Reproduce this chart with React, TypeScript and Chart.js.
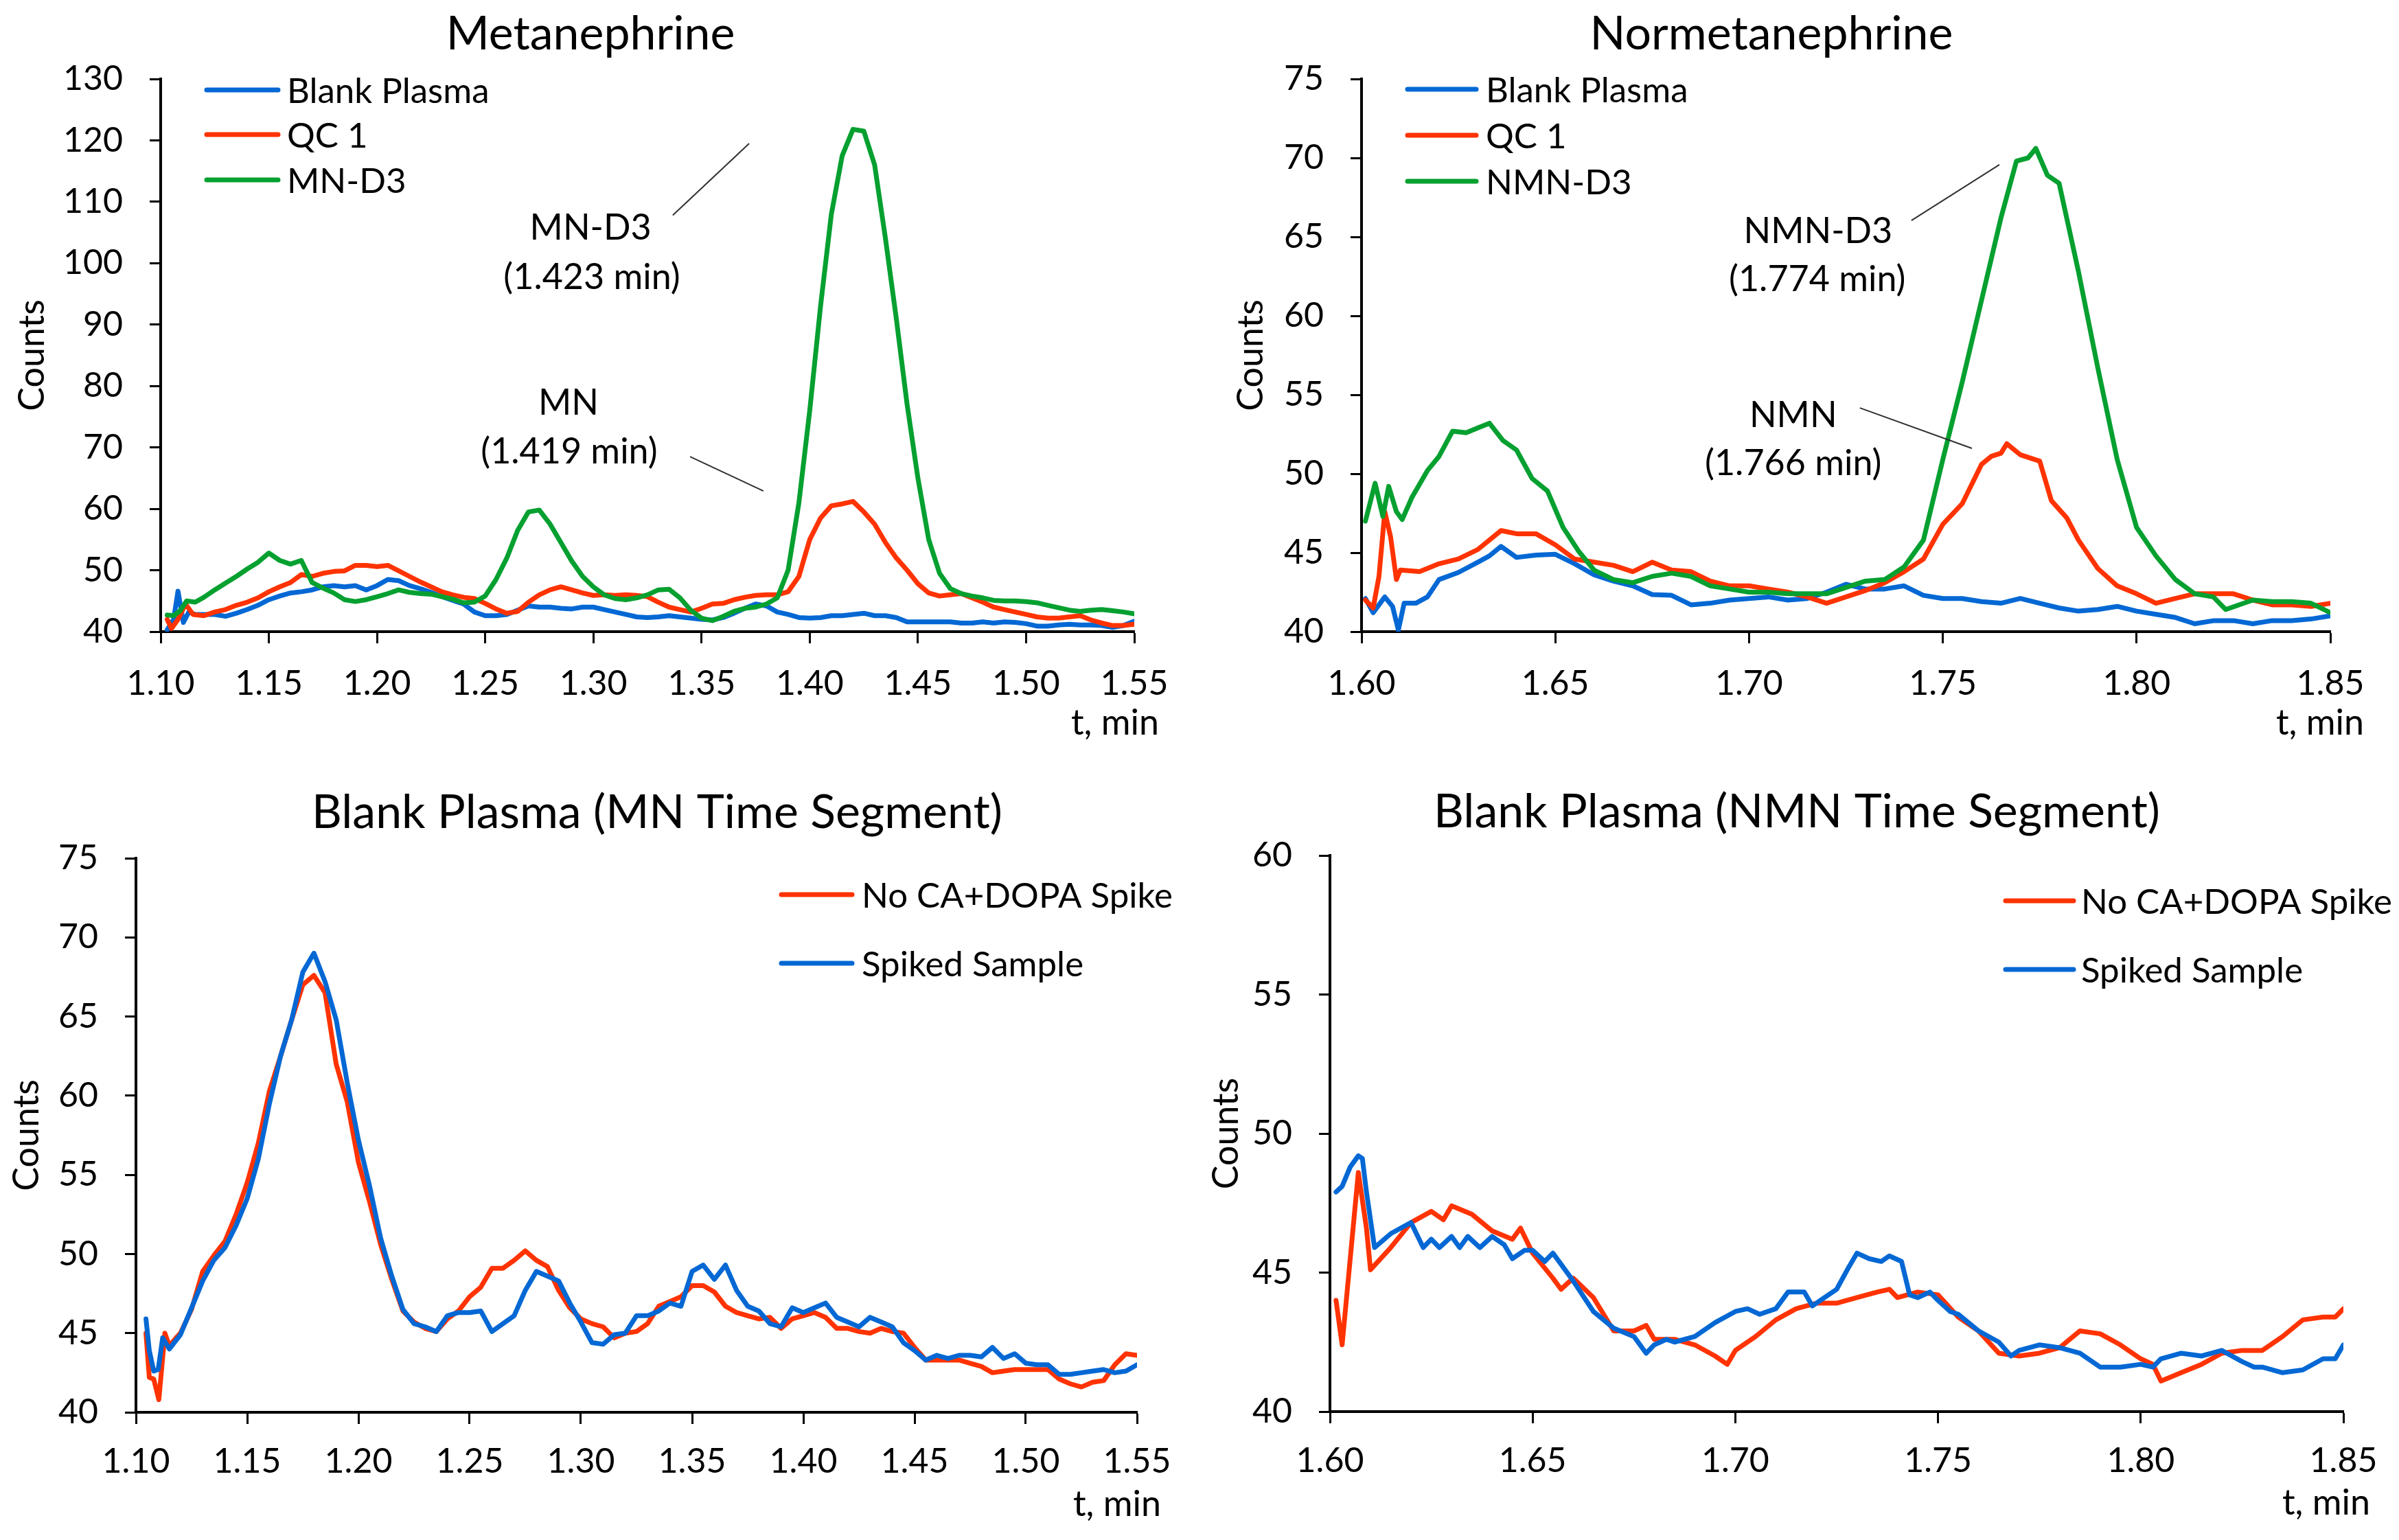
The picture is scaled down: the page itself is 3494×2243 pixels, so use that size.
import React, { useEffect, useRef } from "react";
import { Chart, registerables } from "chart.js";

Chart.register(...registerables);

// ---------------- DATA ----------------
// Metanephrine panel (t, min) — shared grid after the injection spike
const mnGridT = [
  1.12, 1.125, 1.13, 1.135, 1.14, 1.145, 1.15, 1.155, 1.16, 1.165,
  1.17, 1.175, 1.18, 1.185, 1.19, 1.195, 1.2, 1.205, 1.21, 1.215,
  1.22, 1.225, 1.23, 1.235, 1.24, 1.245, 1.25, 1.255, 1.26, 1.265,
  1.27, 1.275, 1.28, 1.285, 1.29, 1.295, 1.3, 1.305, 1.31, 1.315,
  1.32, 1.325, 1.33, 1.335, 1.34, 1.345, 1.35, 1.355, 1.36, 1.365,
  1.37, 1.375, 1.38, 1.385, 1.39, 1.395, 1.4, 1.405, 1.41, 1.415,
  1.42, 1.425, 1.43, 1.435, 1.44, 1.445, 1.45, 1.455, 1.46, 1.465,
  1.47, 1.475, 1.48, 1.485, 1.49, 1.495, 1.5, 1.505, 1.51, 1.515,
  1.52, 1.525, 1.53, 1.535, 1.54, 1.545, 1.55,
];
const mnBlankHeadT = [1.103, 1.106, 1.108, 1.1105, 1.113, 1.116];
const mnBlankHead = [40.3, 42.0, 46.6, 41.5, 43.2, 42.8];
const mnBlank = [
  42.8, 42.8, 42.5, 43.0, 43.6, 44.3, 45.2, 45.8, 46.3, 46.5,
  46.8, 47.3, 47.5, 47.3, 47.5, 46.8, 47.5, 48.5, 48.3, 47.5,
  47.0, 46.4, 45.7, 45.1, 44.5, 43.2, 42.6, 42.6, 42.8, 43.5,
  44.2, 44.0, 44.0, 43.8, 43.7, 44.0, 44.0, 43.6, 43.2, 42.8,
  42.4, 42.3, 42.4, 42.6, 42.4, 42.2, 42.0, 41.9, 42.3, 43.0,
  43.8, 44.5, 44.2, 43.2, 42.8, 42.3, 42.2, 42.3, 42.6, 42.6,
  42.8, 43.0, 42.6, 42.6, 42.3, 41.6, 41.6, 41.6, 41.6, 41.6,
  41.4, 41.4, 41.6, 41.4, 41.6, 41.5, 41.3, 40.9, 40.9, 41.1,
  41.2, 41.1, 41.1, 41.0, 40.7, 41.0, 41.7,
];
const mnQcHeadT = [1.103, 1.105, 1.108, 1.1115, 1.115];
const mnQcHead = [42.0, 40.5, 42.0, 44.5, 42.8];
const mnQc = [
  42.6, 43.2, 43.6, 44.3, 44.8, 45.5, 46.5, 47.3, 48.0, 49.3,
  49.0, 49.5, 49.8, 49.9, 50.8, 50.8, 50.6, 50.8, 49.9, 49.0,
  48.1, 47.3, 46.5, 46.0, 45.6, 45.4, 44.6, 43.7, 43.0, 43.3,
  44.8, 46.0, 46.8, 47.3, 46.8, 46.3, 45.9, 46.0, 45.9, 46.0,
  45.9, 45.7, 44.8, 44.0, 43.6, 43.2, 43.8, 44.5, 44.6, 45.2,
  45.6, 45.9, 46.0, 46.0, 46.5, 49.0, 55.0, 58.5, 60.5, 60.8,
  61.2, 59.5, 57.5, 54.5, 52.0, 50.0, 47.8, 46.3, 45.8, 46.0,
  46.2, 45.5, 44.8, 44.0, 43.6, 43.2, 42.8, 42.4, 42.2, 42.2,
  42.4, 42.6, 41.9, 41.4, 41.0, 41.0, 41.2,
];
const mnD3HeadT = [1.103, 1.106, 1.109, 1.112, 1.116];
const mnD3Head = [42.7, 42.6, 43.4, 45.0, 44.8];
const mnD3 = [
  45.6, 46.8, 47.9, 49.0, 50.2, 51.3, 52.8, 51.6, 51.0, 51.6,
  48.0, 47.1, 46.3, 45.2, 44.9, 45.2, 45.7, 46.2, 46.8, 46.4,
  46.2, 46.1, 45.7, 45.3, 44.7, 44.8, 45.8, 48.5, 52.0, 56.5,
  59.5, 59.8, 57.5, 54.5, 51.5, 49.0, 47.3, 46.0, 45.4, 45.2,
  45.5, 46.0, 46.8, 46.9, 45.5, 43.5, 42.2, 41.8, 42.5, 43.3,
  43.8, 44.0, 44.5, 45.5, 50.0, 61.0, 76.0, 93.0, 108.0, 117.5,
  121.8, 121.5, 116.0, 104.0, 91.0, 77.0, 65.0, 55.0, 49.5, 47.0,
  46.2, 45.8, 45.5, 45.1, 45.0, 45.0, 44.9, 44.7, 44.3, 43.9,
  43.5, 43.3, 43.5, 43.6, 43.4, 43.2, 42.9,
];

// Normetanephrine panel
const nmBlankT = [
  1.601, 1.603, 1.606, 1.608, 1.6095, 1.611, 1.614, 1.617, 1.62, 1.625,
  1.63, 1.633, 1.636, 1.64, 1.645, 1.65, 1.655, 1.66, 1.665, 1.67,
  1.675, 1.68, 1.685, 1.69, 1.695, 1.7, 1.705, 1.71, 1.715, 1.72,
  1.725, 1.73, 1.735, 1.74, 1.745, 1.75, 1.755, 1.76, 1.765, 1.77,
  1.775, 1.78, 1.785, 1.79, 1.795, 1.8, 1.805, 1.81, 1.815, 1.82,
  1.825, 1.83, 1.835, 1.84, 1.845, 1.85,
];
const nmBlank = [
  42.1, 41.2, 42.2, 41.6, 40.1, 41.8, 41.8, 42.2, 43.3, 43.75,
  44.4, 44.8, 45.4, 44.7, 44.85, 44.9, 44.3, 43.6, 43.2, 42.9,
  42.35, 42.3, 41.7, 41.8, 42.0, 42.1, 42.2, 42.0, 42.1, 42.5,
  43.0, 42.7, 42.7, 42.9, 42.3, 42.1, 42.1, 41.9, 41.8, 42.1,
  41.8, 41.5, 41.3, 41.4, 41.6, 41.3, 41.1, 40.9, 40.5, 40.7,
  40.7, 40.5, 40.7, 40.7, 40.8, 41.0,
];
const nmQcT = [
  1.601, 1.603, 1.6045, 1.606, 1.6075, 1.609, 1.61, 1.615, 1.62, 1.625,
  1.63, 1.636, 1.64, 1.645, 1.65, 1.655, 1.66, 1.665, 1.67, 1.675,
  1.68, 1.685, 1.69, 1.695, 1.7, 1.705, 1.71, 1.715, 1.72, 1.725,
  1.73, 1.735, 1.74, 1.745, 1.75, 1.755, 1.76, 1.7625, 1.765, 1.7665,
  1.77, 1.775, 1.778, 1.782, 1.785, 1.79, 1.795, 1.8, 1.805, 1.81,
  1.815, 1.82, 1.825, 1.83, 1.835, 1.84, 1.845, 1.85,
];
const nmQc = [
  42.0, 41.5, 43.5, 47.6, 46.0, 43.3, 43.9, 43.8, 44.3, 44.6,
  45.2, 46.4, 46.2, 46.2, 45.5, 44.6, 44.4, 44.2, 43.8, 44.4,
  43.9, 43.8, 43.2, 42.9, 42.9, 42.7, 42.5, 42.2, 41.8, 42.2,
  42.6, 43.1, 43.8, 44.6, 46.8, 48.1, 50.6, 51.1, 51.3, 51.9,
  51.2, 50.8, 48.3, 47.2, 45.8, 44.0, 42.9, 42.4, 41.8, 42.1,
  42.4, 42.4, 42.4, 42.0, 41.7, 41.7, 41.6, 41.8,
];
const nmD3T = [
  1.601, 1.6035, 1.6055, 1.607, 1.609, 1.6105, 1.613, 1.617, 1.62, 1.6235,
  1.627, 1.63, 1.633, 1.6365, 1.64, 1.644, 1.648, 1.652, 1.656, 1.66,
  1.665, 1.67, 1.675, 1.68, 1.685, 1.69, 1.695, 1.7, 1.705, 1.71,
  1.715, 1.72, 1.725, 1.73, 1.735, 1.74, 1.745, 1.75, 1.755, 1.76,
  1.765, 1.769, 1.772, 1.774, 1.777, 1.78, 1.785, 1.79, 1.795, 1.8,
  1.805, 1.81, 1.815, 1.8198, 1.823, 1.83, 1.835, 1.84, 1.845, 1.85,
];
const nmD3 = [
  47.0, 49.4, 47.3, 49.2, 47.6, 47.1, 48.5, 50.2, 51.1, 52.7,
  52.6, 52.9, 53.2, 52.1, 51.5, 49.7, 48.9, 46.6, 45.1, 43.9,
  43.3, 43.1, 43.5, 43.7, 43.5, 42.9, 42.7, 42.5, 42.5, 42.4,
  42.4, 42.4, 42.8, 43.2, 43.3, 44.1, 45.8, 50.9, 55.8, 61.0,
  66.2, 69.8, 70.0, 70.6, 68.9, 68.4, 62.8, 56.7, 50.9, 46.6,
  44.8, 43.3, 42.4, 42.2, 41.4, 42.0, 41.9, 41.9, 41.8, 41.2,
];

// Blank plasma, MN time segment
const segMnNoHeadT = [1.1045, 1.106, 1.108, 1.1103, 1.113, 1.115, 1.118];
const segMnNoHead = [45.0, 42.2, 42.1, 40.8, 45.0, 44.2, 44.7];
const segMnNo = [
  45.0, 46.5, 48.9, 49.9, 50.8, 52.5, 54.5, 57.0, 60.3, 62.5,
  64.8, 67.0, 67.6, 66.5, 62.0, 59.6, 55.8, 53.3, 50.6, 48.4,
  46.4, 45.7, 45.3, 45.1, 45.9, 46.4, 47.3, 47.9, 49.1, 49.1,
  49.6, 50.2, 49.6, 49.2, 47.7, 46.6, 45.9, 45.6, 45.4, 44.7,
  45.0, 45.1, 45.6, 46.7, 47.0, 47.3, 48.0, 48.0, 47.6, 46.7,
  46.3, 46.1, 45.9, 46.0, 45.3, 45.9, 46.1, 46.3, 46.0, 45.3,
  45.3, 45.1, 45.0, 45.3, 45.1, 45.0, 44.1, 43.3, 43.3, 43.3,
  43.3, 43.1, 42.9, 42.5, 42.6, 42.7, 42.7, 42.7, 42.7, 42.1,
  41.8, 41.6, 41.9, 42.0, 43.0, 43.7, 43.6,
];
const segMnSpkHeadT = [1.1045, 1.106, 1.108, 1.11, 1.112, 1.115];
const segMnSpkHead = [45.9, 43.9, 42.6, 42.7, 44.7, 44.0];
const segMnSpk = [
  44.9, 46.6, 48.3, 49.6, 50.4, 51.8, 53.5, 56.0, 59.5, 62.5,
  64.8, 67.8, 69.0, 67.2, 64.8, 60.8, 57.2, 54.3, 51.0, 48.6,
  46.5, 45.6, 45.4, 45.1, 46.1, 46.3, 46.3, 46.4, 45.1, 45.6,
  46.1, 47.7, 48.9, 48.6, 48.3, 46.9, 45.7, 44.4, 44.3, 44.9,
  45.0, 46.1, 46.1, 46.4, 46.9, 46.7, 48.9, 49.3, 48.4, 49.3,
  47.7, 46.7, 46.4, 45.6, 45.4, 46.6, 46.3, 46.6, 46.9, 46.0,
  45.7, 45.4, 46.0, 45.7, 45.4, 44.4, 43.9, 43.3, 43.6, 43.4,
  43.6, 43.6, 43.5, 44.1, 43.4, 43.7, 43.1, 43.0, 43.0, 42.4,
  42.4, 42.5, 42.6, 42.7, 42.5, 42.6, 43.0,
];

// Blank plasma, NMN time segment
const segNmNoT = [
  1.6015, 1.603, 1.605, 1.607, 1.609, 1.61, 1.615, 1.62, 1.625, 1.628,
  1.63, 1.635, 1.64, 1.645, 1.647, 1.65, 1.655, 1.657, 1.66, 1.665,
  1.67, 1.675, 1.678, 1.68, 1.685, 1.69, 1.695, 1.698, 1.7, 1.705,
  1.71, 1.715, 1.72, 1.725, 1.73, 1.735, 1.738, 1.74, 1.745, 1.75,
  1.755, 1.76, 1.765, 1.77, 1.775, 1.78, 1.785, 1.79, 1.795, 1.8,
  1.803, 1.805, 1.81, 1.815, 1.82, 1.825, 1.83, 1.835, 1.84, 1.845,
  1.848, 1.85,
];
const segNmNo = [
  44.0, 42.4, 45.5, 48.6, 46.6, 45.1, 45.9, 46.8, 47.2, 46.9,
  47.4, 47.1, 46.5, 46.2, 46.6, 45.7, 44.8, 44.4, 44.8, 44.1,
  42.9, 42.9, 43.1, 42.6, 42.6, 42.4, 42.0, 41.7, 42.2, 42.7,
  43.3, 43.7, 43.9, 43.9, 44.1, 44.3, 44.4, 44.1, 44.3, 44.2,
  43.4, 42.9, 42.1, 42.0, 42.1, 42.3, 42.9, 42.8, 42.4, 41.9,
  41.7, 41.1, 41.4, 41.7, 42.1, 42.2, 42.2, 42.7, 43.3, 43.4,
  43.4, 43.7,
];
const segNmSpkT = [
  1.6015, 1.603, 1.605, 1.607, 1.608, 1.609, 1.611, 1.615, 1.62, 1.623,
  1.625, 1.627, 1.63, 1.632, 1.634, 1.637, 1.64, 1.643, 1.645, 1.648,
  1.65, 1.653, 1.655, 1.66, 1.665, 1.67, 1.675, 1.678, 1.68, 1.683,
  1.685, 1.69, 1.695, 1.7, 1.703, 1.706, 1.71, 1.713, 1.717, 1.719,
  1.722, 1.725, 1.728, 1.73, 1.733, 1.736, 1.738, 1.741, 1.743, 1.745,
  1.748, 1.75, 1.753, 1.755, 1.76, 1.765, 1.768, 1.77, 1.775, 1.78,
  1.785, 1.79, 1.795, 1.8, 1.803, 1.805, 1.81, 1.815, 1.82, 1.825,
  1.828, 1.83, 1.835, 1.84, 1.845, 1.848, 1.85,
];
const segNmSpk = [
  47.9, 48.1, 48.8, 49.2, 49.1, 47.9, 45.9, 46.4, 46.8, 45.9,
  46.2, 45.9, 46.3, 45.9, 46.3, 45.9, 46.3, 46.0, 45.5, 45.8,
  45.8, 45.4, 45.7, 44.7, 43.6, 43.0, 42.7, 42.1, 42.4, 42.6,
  42.5, 42.7, 43.2, 43.6, 43.7, 43.5, 43.7, 44.3, 44.3, 43.8,
  44.1, 44.4, 45.2, 45.7, 45.5, 45.4, 45.6, 45.4, 44.2, 44.1,
  44.3, 44.0, 43.6, 43.5, 42.9, 42.5, 42.0, 42.2, 42.4, 42.3,
  42.1, 41.6, 41.6, 41.7, 41.6, 41.9, 42.1, 42.0, 42.2, 41.8,
  41.6, 41.6, 41.4, 41.5, 41.9, 41.9, 42.4,
];

// Peak annotations (data coordinates)
const mnNotes = [
  { text: "MN-D3", x: 1.2987, y: 106.0 },
  { text: "(1.423 min)", x: 1.2993, y: 97.9 },
  { text: "MN", x: 1.2885, y: 77.4 },
  { text: "(1.419 min)", x: 1.2888, y: 69.5 },
];
const mnLeaders = [
  { x1: 1.3367, y1: 107.8, x2: 1.372, y2: 119.5 },
  { x1: 1.3447, y1: 68.5, x2: 1.3786, y2: 62.9 },
];
const nmNotes = [
  { text: "NMN-D3", x: 1.7178, y: 65.43 },
  { text: "(1.774 min)", x: 1.7176, y: 62.39 },
  { text: "NMN", x: 1.7114, y: 53.78 },
  { text: "(1.766 min)", x: 1.7114, y: 50.74 },
];
const nmLeaders = [
  { x1: 1.7419, y1: 66.04, x2: 1.7646, y2: 69.57 },
  { x1: 1.7286, y1: 54.17, x2: 1.7575, y2: 51.61 },
];

// ---------------- STYLE ----------------
const FONT = "Lato, 'Open Sans', 'DejaVu Sans', sans-serif";
const BLUE = "#0468d4";
const RED = "#ff3300";
const GREEN = "#05a030";

const pts = (t: number[], v: number[]) => t.map((x, i) => ({ x, y: v[i] }));

type Series = { label: string; color: string; data: { x: number; y: number }[]; order: number };
type Note = { text: string; x: number; y: number };
type Leader = { x1: number; y1: number; x2: number; y2: number };
type Panel = {
  id: string;
  box: { left: number; top: number; width: number; height: number };
  area: { left: number; right: number; top: number; bottom: number };
  xr: { min: number; max: number; step: number };
  yr: { min: number; max: number; step: number };
  title: string;
  titleX: number;
  titleBase: number;
  countsX: number;
  tminRight: number;
  tminBase: number;
  xPad: number;
  legend: { x1: number; x2: number; textX: number; rows: number[] };
  series: Series[];
  notes: Note[];
  leaders: Leader[];
};

const panels: Panel[] = [
  {
    id: "mn",
    box: { left: 0, top: 0, width: 1747, height: 1100 },
    area: { left: 234, right: 1652, top: 115, bottom: 920 },
    xr: { min: 1.1, max: 1.55, step: 0.05 },
    yr: { min: 40, max: 130, step: 10 },
    title: "Metanephrine",
    titleX: 860,
    titleBase: 72,
    countsX: 45,
    tminRight: 1688,
    tminBase: 1070,
    xPad: 29,
    legend: { x1: 301, x2: 405, textX: 418, rows: [131, 196, 262] },
    series: [
      { label: "Blank Plasma", color: BLUE, data: pts([...mnBlankHeadT, ...mnGridT], [...mnBlankHead, ...mnBlank]), order: 2 },
      { label: "QC 1", color: RED, data: pts([...mnQcHeadT, ...mnGridT], [...mnQcHead, ...mnQc]), order: 1 },
      { label: "MN-D3", color: GREEN, data: pts([...mnD3HeadT, ...mnGridT], [...mnD3Head, ...mnD3]), order: 0 },
    ],
    notes: mnNotes,
    leaders: mnLeaders,
  },
  {
    id: "nmn",
    box: { left: 1747, top: 0, width: 1747, height: 1100 },
    area: { left: 1983, right: 3394, top: 115, bottom: 920 },
    xr: { min: 1.6, max: 1.85, step: 0.05 },
    yr: { min: 40, max: 75, step: 5 },
    title: "Normetanephrine",
    titleX: 2580,
    titleBase: 72,
    countsX: 1820,
    tminRight: 3443,
    tminBase: 1070,
    xPad: 29,
    legend: { x1: 2050, x2: 2150, textX: 2164, rows: [130, 197, 264] },
    series: [
      { label: "Blank Plasma", color: BLUE, data: pts(nmBlankT, nmBlank), order: 2 },
      { label: "QC 1", color: RED, data: pts(nmQcT, nmQc), order: 1 },
      { label: "NMN-D3", color: GREEN, data: pts(nmD3T, nmD3), order: 0 },
    ],
    notes: nmNotes,
    leaders: nmLeaders,
  },
  {
    id: "segmn",
    box: { left: 0, top: 1100, width: 1747, height: 1143 },
    area: { left: 198, right: 1656, top: 1250, bottom: 2057 },
    xr: { min: 1.1, max: 1.55, step: 0.05 },
    yr: { min: 40, max: 75, step: 5 },
    title: "Blank Plasma (MN Time Segment)",
    titleX: 957,
    titleBase: 1206,
    countsX: 37,
    tminRight: 1691,
    tminBase: 2208,
    xPad: 25,
    legend: { x1: 1138, x2: 1241, textX: 1255, rows: [1303, 1403] },
    series: [
      { label: "No CA+DOPA Spike", color: RED, data: pts([...segMnNoHeadT, ...mnGridT], [...segMnNoHead, ...segMnNo]), order: 1 },
      { label: "Spiked Sample", color: BLUE, data: pts([...segMnSpkHeadT, ...mnGridT], [...segMnSpkHead, ...segMnSpk]), order: 0 },
    ],
    notes: [],
    leaders: [],
  },
  {
    id: "segnmn",
    box: { left: 1747, top: 1100, width: 1747, height: 1143 },
    area: { left: 1937, right: 3413, top: 1246, bottom: 2056 },
    xr: { min: 1.6, max: 1.85, step: 0.05 },
    yr: { min: 40, max: 60, step: 5 },
    title: "Blank Plasma (NMN Time Segment)",
    titleX: 2617,
    titleBase: 1205,
    countsX: 1784,
    tminRight: 3452,
    tminBase: 2206,
    xPad: 25,
    legend: { x1: 2921, x2: 3020, textX: 3031, rows: [1312, 1412] },
    series: [
      { label: "No CA+DOPA Spike", color: RED, data: pts(segNmNoT, segNmNo), order: 1 },
      { label: "Spiked Sample", color: BLUE, data: pts(segNmSpkT, segNmSpk), order: 0 },
    ],
    notes: [],
    leaders: [],
  },
];

function overlay(p: Panel) {
  return {
    id: "overlay_" + p.id,
    afterDraw(chart: any) {
      const ctx: CanvasRenderingContext2D = chart.ctx;
      const ox = p.box.left;
      const oy = p.box.top;
      const xs = chart.scales.x;
      const ys = chart.scales.y;
      const ca = chart.chartArea;
      ctx.save();
      ctx.fillStyle = "#000";
      ctx.textBaseline = "alphabetic";

      // title
      ctx.font = `68px ${FONT}`;
      ctx.textAlign = "center";
      ctx.fillText(p.title, p.titleX - ox, p.titleBase - oy);

      ctx.font = `52px ${FONT}`;
      const capH = ctx.measureText("H").actualBoundingBoxAscent;

      // y axis title
      ctx.save();
      ctx.translate(p.countsX - ox, (ca.top + ca.bottom) / 2);
      ctx.rotate(-Math.PI / 2);
      ctx.textAlign = "center";
      ctx.fillText("Counts", 0, capH / 2);
      ctx.restore();

      // x axis title
      ctx.textAlign = "right";
      ctx.fillText("t, min", p.tminRight - ox, p.tminBase - oy);

      // annotations
      ctx.textAlign = "center";
      p.notes.forEach((n) => {
        ctx.fillText(n.text, xs.getPixelForValue(n.x), ys.getPixelForValue(n.y) + capH / 2);
      });
      ctx.strokeStyle = "#303030";
      ctx.lineWidth = 2;
      ctx.lineCap = "butt";
      p.leaders.forEach((l) => {
        ctx.beginPath();
        ctx.moveTo(xs.getPixelForValue(l.x1), ys.getPixelForValue(l.y1));
        ctx.lineTo(xs.getPixelForValue(l.x2), ys.getPixelForValue(l.y2));
        ctx.stroke();
      });

      // legend
      ctx.font = `51px ${FONT}`;
      ctx.textAlign = "left";
      ctx.lineCap = "round";
      ctx.lineWidth = 7;
      p.series.forEach((s, i) => {
        const y = p.legend.rows[i] - oy;
        ctx.strokeStyle = s.color;
        ctx.beginPath();
        ctx.moveTo(p.legend.x1 - ox, y);
        ctx.lineTo(p.legend.x2 - ox, y);
        ctx.stroke();
        ctx.fillText(s.label, p.legend.textX - ox, y + capH / 2);
      });
      ctx.restore();
    },
  };
}

function PanelChart({ p }: { p: Panel }) {
  const ref = useRef<HTMLCanvasElement | null>(null);
  useEffect(() => {
    if (!ref.current) return;
    const W = p.box.width;
    const H = p.box.height;
    const a = {
      left: p.area.left - p.box.left,
      right: p.area.right - p.box.left,
      top: p.area.top - p.box.top,
      bottom: p.area.bottom - p.box.top,
    };
    const chart = new Chart(ref.current, {
      type: "line",
      data: {
        datasets: p.series.map((s) => ({
          label: s.label,
          data: s.data,
          borderColor: s.color,
          backgroundColor: s.color,
          borderWidth: 7,
          pointRadius: 0,
          tension: 0,
          fill: false,
          order: s.order,
          borderJoinStyle: "round" as const,
          borderCapStyle: "round" as const,
        })),
      },
      options: {
        animation: false,
        responsive: false,
        devicePixelRatio: 1,
        events: [],
        layout: { padding: { left: 0, top: a.top, right: W - a.right, bottom: 0 } },
        plugins: {
          legend: { display: false },
          title: { display: false },
          tooltip: { enabled: false },
        },
        scales: {
          x: {
            type: "linear",
            min: p.xr.min,
            max: p.xr.max,
            afterFit: (s: any) => {
              s.height = H - a.bottom;
              s.paddingLeft = 0;
              s.paddingRight = 0;
            },
            ticks: {
              stepSize: p.xr.step,
              autoSkip: false,
              maxRotation: 0,
              padding: p.xPad,
              color: "#000",
              font: { family: FONT, size: 50 },
              callback: (v: any) => Number(v).toFixed(2),
            },
            grid: {
              display: true,
              drawOnChartArea: false,
              drawTicks: true,
              tickLength: 17,
              tickWidth: 3,
              tickColor: "#000",
              color: "#000",
            },
            border: { display: true, color: "#000", width: 4 },
          },
          y: {
            type: "linear",
            min: p.yr.min,
            max: p.yr.max,
            afterFit: (s: any) => {
              s.width = a.left;
              s.paddingTop = 0;
              s.paddingBottom = 0;
            },
            ticks: {
              stepSize: p.yr.step,
              autoSkip: false,
              padding: 39,
              color: "#000",
              font: { family: FONT, size: 50 },
            },
            grid: {
              display: true,
              drawOnChartArea: false,
              drawTicks: true,
              tickLength: 16,
              tickWidth: 3,
              tickColor: "#000",
              color: "#000",
            },
            border: { display: true, color: "#000", width: 4 },
          },
        },
      } as any,
      plugins: [overlay(p)],
    });
    return () => chart.destroy();
  }, [p]);
  return (
    <canvas
      ref={ref}
      width={p.box.width}
      height={p.box.height}
      style={{
        position: "absolute",
        left: p.box.left,
        top: p.box.top,
        width: p.box.width,
        height: p.box.height,
      }}
    />
  );
}

export default function App() {
  useEffect(() => {
    document.body.style.margin = "0";
    document.body.style.background = "#fff";
  }, []);
  return (
    <div
      style={{
        position: "relative",
        width: 3494,
        height: 2243,
        overflow: "hidden",
        background: "#fff",
      }}
    >
      {panels.map((p) => (
        <PanelChart key={p.id} p={p} />
      ))}
    </div>
  );
}
